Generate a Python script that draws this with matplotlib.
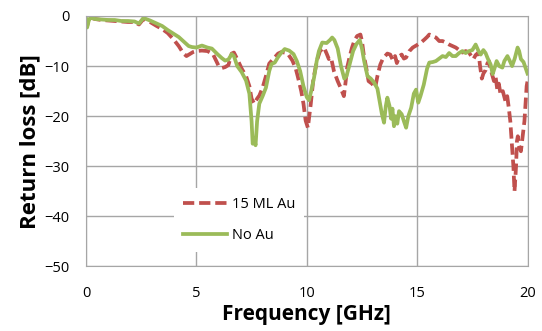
import matplotlib
matplotlib.use("Agg")
import matplotlib.pyplot as plt

plt.rcParams['font.family'] = ['Open Sans', 'DejaVu Sans']

# 15 ML Au (red dashed)
f_au = [0.0, 0.05, 0.12, 0.2, 0.4, 0.7, 1.0, 1.3, 1.6, 1.9, 2.2, 2.4, 2.6, 2.9, 3.2, 3.45,
        3.7, 3.95, 4.2, 4.4, 4.55, 4.7, 4.85, 5.0, 5.25, 5.5, 5.75, 6.0, 6.15, 6.3, 6.45,
        6.6, 6.7, 6.85, 7.05, 7.25, 7.4, 7.5, 7.62, 7.75, 7.85, 8.0, 8.15, 8.3, 8.5, 8.7,
        8.85, 9.0, 9.15, 9.35, 9.5, 9.6, 9.75, 9.85, 9.95, 10.05, 10.18, 10.3, 10.48, 10.6,
        10.78, 10.9, 11.0, 11.1, 11.23, 11.4, 11.53, 11.68, 11.75, 11.83, 11.95, 12.05,
        12.15, 12.28, 12.43, 12.5, 12.58, 12.7, 12.8, 12.95, 13.1, 13.2, 13.33, 13.45,
        13.55, 13.65, 13.78, 13.9, 14.0, 14.08, 14.2, 14.3, 14.4, 14.5, 14.65, 14.8, 15.03,
        15.2, 15.33, 15.45, 15.55, 15.7, 15.85, 16.0, 16.15, 16.3, 16.45, 16.6, 16.75,
        16.9, 17.05, 17.2, 17.35, 17.45, 17.55, 17.65, 17.78, 17.85, 17.93, 18.0, 18.1,
        18.18, 18.25, 18.35, 18.48, 18.55, 18.63, 18.7, 18.78, 18.88, 19.0, 19.08, 19.15,
        19.22, 19.3, 19.36, 19.41, 19.48, 19.52, 19.56, 19.62, 19.7, 19.78, 19.86, 19.92,
        19.96, 20.0]
rl_au = [-0.5, -2.0, -0.8, -0.3, -0.6, -0.8, -0.9, -1.0, -1.1, -1.2, -1.2, -1.7, -0.6, -1.2,
         -2.0, -2.6, -3.4, -4.6, -6.0, -7.4, -8.0, -7.6, -7.2, -7.0, -6.9, -7.0, -7.6, -9.9,
         -10.4, -10.2, -9.8, -7.5, -7.3, -8.6, -10.5, -12, -14, -16.5, -17.5, -16.5, -15.9,
         -14.3, -12, -9.5, -8.5, -7.5, -7.2, -7.3, -7.6, -8.9, -10.5, -12.2, -15, -17.5,
         -20.9, -22.3, -17.6, -12.5, -8.6, -7.0, -6.3, -7.5, -8.6, -8.3, -11, -13, -14.3,
         -16, -13.5, -10.3, -8.0, -6.3, -5.0, -4.0, -3.7, -5.0, -7.7, -10.5, -13, -13.5,
         -14.3, -12, -9.7, -8.5, -8.0, -7.5, -7.7, -8.8, -8.0, -9.4, -8.0, -7.7, -8.5, -8.3,
         -7.0, -6.3, -5.7, -5.2, -4.7, -4.2, -3.7, -4.0, -4.3, -5.0, -5.0, -5.3, -5.7, -6.0,
         -6.3, -6.8, -7.3, -7.0, -7.3, -8.0, -8.6, -7.8, -7.3, -10.0, -12.5, -11.5, -10.8,
         -9.5, -9.0, -11.0, -13, -12.0, -14.7, -13.5, -15.7, -15.0, -17, -16, -18.3, -21,
         -26, -30, -35, -30, -25, -24, -26, -27, -24, -21, -17, -14, -13]

# No Au (green solid)
f_no = [0.0, 0.05, 0.12, 0.2, 0.4, 0.7, 1.0, 1.3, 1.6, 1.9, 2.2, 2.4, 2.6, 2.9, 3.2, 3.45,
        3.7, 3.95, 4.2, 4.45, 4.65, 4.8, 5.0, 5.25, 5.5, 5.7, 5.95, 6.15, 6.3, 6.45, 6.6,
        6.7, 6.85, 7.05, 7.25, 7.4, 7.5, 7.55, 7.62, 7.68, 7.75, 7.85, 8.0, 8.15, 8.3, 8.4,
        8.55, 8.7, 8.85, 9.0, 9.2, 9.4, 9.55, 9.7, 9.85, 10.0, 10.1, 10.2, 10.33, 10.45,
        10.55, 10.7, 10.9, 11.05, 11.15, 11.25, 11.4, 11.55, 11.7, 11.8, 11.95, 12.1, 12.25,
        12.4, 12.5, 12.6, 12.75, 12.9, 13.05, 13.2, 13.3, 13.4, 13.5, 13.58, 13.65, 13.75,
        13.82, 13.88, 13.95, 14.02, 14.1, 14.18, 14.3, 14.4, 14.5, 14.6, 14.73, 14.85,
        14.95, 15.05, 15.15, 15.3, 15.45, 15.55, 15.7, 15.85, 16.0, 16.15, 16.3, 16.45,
        16.6, 16.75, 16.9, 17.05, 17.2, 17.35, 17.5, 17.65, 17.78, 17.88, 18.0, 18.1, 18.2,
        18.33, 18.42, 18.5, 18.6, 18.72, 18.86, 18.95, 19.09, 19.2, 19.3, 19.42, 19.55,
        19.62, 19.7, 19.82, 19.92, 20.0]
rl_no = [-0.5, -2.3, -1.0, -0.3, -0.6, -0.7, -0.8, -0.8, -1.0, -1.0, -1.1, -1.5, -0.4, -0.9,
         -1.5, -2.0, -2.8, -3.5, -4.2, -5.2, -6.0, -6.2, -6.3, -5.9, -6.3, -6.5, -7.6, -8.4,
         -8.9, -8.7, -7.6, -8.0, -10.0, -11.2, -12.9, -15.5, -21, -25.5, -24.5, -25.8, -21,
         -17.5, -16.0, -14.3, -11, -9.6, -9.3, -8.2, -7.3, -6.6, -6.9, -7.6, -9.0, -11, -14,
         -16.2, -16.8, -15, -12.3, -9, -7, -5.3, -5.4, -4.8, -4.3, -4.8, -6.5, -10, -12.5,
         -12, -9.5, -7, -5.6, -4.8, -6.5, -9, -12, -12.5, -13.3, -14.5, -17, -19.5, -21.3,
         -18, -16.3, -18, -20.5, -18.5, -22, -20, -21.5, -19, -19.6, -21, -22.3, -20, -18.3,
         -15.5, -14.7, -17.3, -16, -13.7, -10.5, -9.3, -9.2, -9.0, -8.5, -8.0, -8.2, -7.4,
         -8.0, -8.0, -7.4, -7.0, -7.4, -7.0, -6.8, -5.7, -7.0, -7.7, -6.8, -7.4, -8.5, -9.7,
         -11.6, -10.5, -9.0, -10.0, -10.3, -9.0, -8.0, -9.0, -10.0, -8.5, -6.3, -7.0, -8.6,
         -9.2, -10.5, -11.5]

fig = plt.figure(figsize=(5.42, 3.31), dpi=100)
ax = fig.add_axes([0.1587, 0.1949, 0.8146, 0.7568])

ax.plot(f_au, rl_au, color='#C0504D', lw=2.7, dashes=(3.0, 1.3), label='15 ML Au')
ax.plot(f_no, rl_no, color='#9BBB59', lw=2.7, label='No Au')

ax.set_xlim(0, 20)
ax.set_ylim(-50, 0)
ax.set_xticks([0, 5, 10, 15, 20])
ax.set_yticks([0, -10, -20, -30, -40, -50])
ax.grid(True, color='#A6A6A6', lw=1)
ax.set_axisbelow(True)
for s in ax.spines.values():
    s.set_color('#A6A6A6')
ax.tick_params(axis='both', length=0, labelsize=10.5)
ax.tick_params(axis='x', pad=14)
ax.tick_params(axis='y', pad=12)

ax.set_xlabel('Frequency [GHz]', fontsize=15, fontweight='bold', labelpad=2)
ax.set_ylabel('Return loss [dB]', fontsize=16, fontweight='bold', labelpad=3)

leg = ax.legend(loc='lower left', bbox_to_anchor=(0.183, 0.028), fontsize=10.5,
                frameon=True, fancybox=False, framealpha=1, handlelength=3.0,
                handletextpad=0.35, labelspacing=1.15, borderpad=0.6)
leg.get_frame().set_edgecolor('none')
leg.get_frame().set_facecolor('white')

fig.savefig('out.png', dpi=100)
